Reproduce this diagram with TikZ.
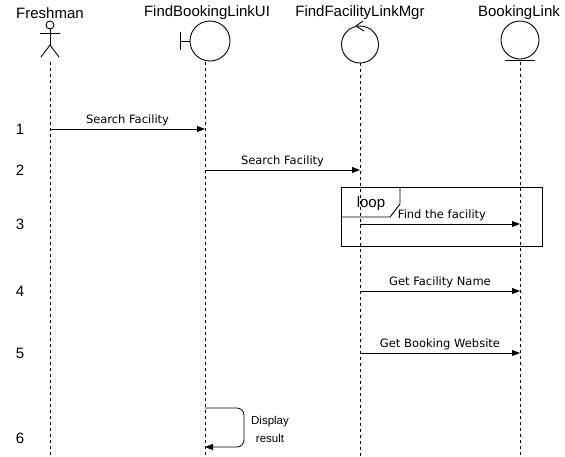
\documentclass[tikz,border=0pt]{standalone}
\usepackage{fontspec}
\setmainfont{Liberation Sans}
\newfontfamily\msgfont{DejaVu Sans}
\usetikzlibrary{arrows.meta}

\tikzset{
  title/.style={font=\fontsize{15}{17}\selectfont, inner sep=0pt},
  stepno/.style={font=\fontsize{15}{17}\selectfont, inner sep=0pt},
  lbl/.style={font=\msgfont\fontsize{11.5}{13}\selectfont, inner sep=0pt, above=2.5pt},
  life/.style={line width=0.7pt, dash pattern=on 3pt off 3pt},
  msg/.style={line width=0.8pt, -{Triangle[length=8pt,width=6pt]}},
  sym/.style={line width=0.9pt}
}

\begin{document}
\begin{tikzpicture}[x=1pt, y=-1pt]
    \useasboundingbox (0,0) rectangle (565,456);

    % headers
    \node[title] (fresh) at (50,13)  {Freshman};
    \node[title] (ui)    at (207,13) {FindBookingLinkUI};
    \node[title] (mgr)   at (360,13) {FindFacilityLinkMgr};
    \node[title] (link)  at (519,13) {BookingLink};

    % lifeline positions
    \coordinate (lfresh) at (50,62);
    \coordinate (lui)    at (205,62);
    \coordinate (lmgr)   at (360,63);
    \coordinate (llink)  at (520,62);
    \coordinate (bot)    at (0,456);

    % actor
    \draw[sym] (50,25) circle (4);
    \draw[sym] (50,29) -- (50,45);
    \draw[sym] (40,33) -- (60,33);
    \draw[sym] (41,57) -- (50,45) -- (59,57);

    % boundary
    \draw[sym] (210,41) circle (20);
    \draw[sym] (180,32) -- (180,50);
    \draw[sym] (180,41) -- (190,41);

    % control
    \draw[sym] (360,44.5) circle (18.5);
    \draw[sym] (363,21) -- (356,26) -- (364,31);

    % entity
    \draw[sym] (520,40) circle (19);
    \draw[sym] (505,60) -- (535,60);

    % lifelines
    \foreach \l in {lfresh,lui,lmgr,llink}
      \draw[life] (\l) -- (\l |- bot);

    % step numbers
    \node[stepno] (n1) at (20,129) {1};
    \node[stepno] (n2) at (20,170) {2};
    \node[stepno] (n3) at (20,224) {3};
    \node[stepno] (n4) at (20,291) {4};
    \node[stepno] (n5) at (20,353) {5};
    \node[stepno] (n6) at (20,438) {6};

    % loop frame
    \draw[sym] (341,187) rectangle (542,246);
    \draw[sym] (341,217) -- (390,217) -- (400,204) -- (400,187);
    \node[title] (loop) at (371,204) {loop};

    % messages
    \draw[msg] (lfresh |- n1) -- node[lbl] {Search Facility} (lui |- n1);
    \draw[msg] (lui |- n2) -- node[lbl] {Search Facility} (lmgr |- n2);
    \draw[msg] (lmgr |- n3) -- node[lbl, xshift=2pt] {Find the facility} (llink |- n3);
    \draw[msg] (lmgr |- n4) -- node[lbl] {Get Facility Name} (llink |- n4);
    \draw[msg] (lmgr |- n5) -- node[lbl] {Get Booking Website} (llink |- n5);

    % self message
    \coordinate (s6a) at (205,408);
    \coordinate (s6b) at (205,447);
    \draw[msg, rounded corners=7pt] (s6a) -- (244,408) -- (244,447) -- (s6b);
    \node[font=\fontsize{11.5}{18}\selectfont, align=center, inner sep=0pt] (disp) at (270,429) {Display\\result};

\end{tikzpicture}
\end{document}
